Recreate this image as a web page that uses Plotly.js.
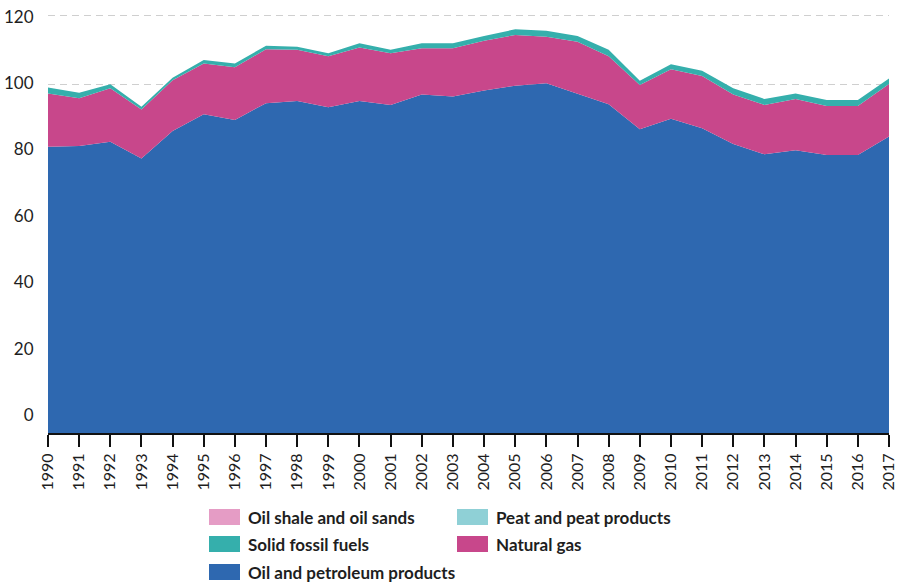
<!DOCTYPE html>
<html>
<head>
<meta charset="utf-8">
<script src="https://cdn.plot.ly/plotly-3.0.1.min.js"></script>
<style>
html,body{margin:0;padding:0;background:#fff;}
#chart{width:903px;height:584px;}
</style>
</head>
<body>
<div id="chart"></div>
<script>
const years = [1990,1991,1992,1993,1994,1995,1996,1997,1998,1999,2000,2001,2002,2003,2004,2005,2006,2007,2008,2009,2010,2011,2012,2013,2014,2015,2016,2017];
const oilPetroleum = [82.2,82.4,83.6,78.8,86.7,91.5,89.9,94.7,95.3,93.5,95.3,94.2,97.2,96.6,98.3,99.7,100.4,97.5,94.4,87.2,90.2,87.5,83.0,80.0,81.2,79.8,79.8,85.1];
const naturalGas = [15.3,13.7,15.4,14.1,14.6,14.6,15.1,15.5,14.7,14.7,15.4,14.8,13.3,13.9,14.3,14.6,13.4,14.8,13.8,12.7,14.2,15.0,14.2,14.2,14.7,14.1,14.1,15.1];
const solidFossil = [1.7,1.6,1.1,0.8,0.7,1.0,1.1,1.0,0.9,0.8,1.2,1.0,1.4,1.4,1.4,1.6,1.7,1.7,1.8,1.2,1.5,1.5,1.8,1.7,1.6,1.7,1.7,1.6];
const peat = [0,0,0,0,0,0,0,0,0,0,0,0,0,0,0,0,0,0,0,0,0,0,0,0,0,0,0,0];
const oilShale = [0,0,0,0,0,0,0,0,0,0,0,0,0,0,0,0,0,0,0,0,0,0,0,0,0,0,0,0];
const yTicks = [0,20,40,60,80,100,120];

const seriesNames = ["Oil and petroleum products","Natural gas","Solid fossil fuels","Peat and peat products","Oil shale and oil sands"];
const seriesValues = [oilPetroleum, naturalGas, solidFossil, peat, oilShale];
const seriesColors = ["#2e68b0","#c8478b","#35afac","#8fd0d6","#e59cc5"];

const traces = seriesValues.map((vals, i) => ({
  type: 'scatter', mode: 'lines', x: years, y: vals, name: seriesNames[i],
  stackgroup: 'one', fillcolor: seriesColors[i],
  line: {width: 0, color: seriesColors[i]}, hoverinfo: 'skip', showlegend: false
}));
// invisible trace to carry the labelled axis
traces.push({type:'scatter', mode:'markers', x:[years[0]], y:[0], yaxis:'y2', marker:{opacity:0}, hoverinfo:'skip', showlegend:false});

const FONT = 'Lato, "Open Sans", sans-serif';
const L = 48, R = 14, T = 10, B = 151, W = 903, H = 584;
const pw = W - L - R, ph = H - T - B;
const px2x = p => (p - L) / pw;
const py2y = p => (H - B - p) / ph;

// legend layout (positions only)
const legendItems = [
  {idx: 4, col: 0, row: 0},
  {idx: 3, col: 1, row: 0},
  {idx: 2, col: 0, row: 1},
  {idx: 1, col: 1, row: 1},
  {idx: 0, col: 0, row: 2}
];
const colX = [209, 457], rowY = [517, 544, 572];
const shapes = [], annotations = [];
legendItems.forEach(it => {
  const x0 = colX[it.col], yc = rowY[it.row];
  shapes.push({type:'rect', xref:'paper', yref:'paper', x0:px2x(x0), x1:px2x(x0+31), y0:py2y(yc+8), y1:py2y(yc-8), fillcolor:seriesColors[it.idx], line:{width:0}});
  annotations.push({xref:'paper', yref:'paper', x:px2x(x0+37), y:py2y(yc), xanchor:'left', yanchor:'middle', showarrow:false, text:'<b>'+seriesNames[it.idx]+'</b>', font:{family:FONT, size:17, color:'#1e1e1e'}});
});

const layout = {
  width: W, height: H,
  margin: {l: L, r: R, t: T, b: B},
  paper_bgcolor: '#fff', plot_bgcolor: '#fff',
  showlegend: false,
  font: {family: FONT, color: '#1e1e1e'},
  xaxis: {
    range: [1990, 2017], tickvals: years, ticktext: years.map(String), tickangle: -90,
    ticks: 'outside', ticklen: 12, tickwidth: 2, tickcolor: '#111',
    showline: true, linewidth: 2, linecolor: '#111', showgrid: false, zeroline: false,
    tickfont: {family: FONT, size: 16, color: '#1e1e1e'}, fixedrange: true
  },
  yaxis: {
    range: [0, ph / 3.483], tickvals: yTicks, showticklabels: false,
    showgrid: true, gridcolor: '#cfcfcf', gridwidth: 1, griddash: '7px,5px',
    zeroline: false, showline: false, ticks: '', fixedrange: true
  },
  yaxis2: {
    overlaying: 'y', side: 'left', anchor: 'x',
    range: [-(433 - 415) / 3.319, 120 + (16.7 - T) / 3.319],
    tickvals: yTicks, ticktext: yTicks.map(String),
    showgrid: false, zeroline: false, showline: false,
    ticks: 'outside', ticklen: 10, tickcolor: 'rgba(0,0,0,0)',
    tickfont: {family: FONT, size: 17, color: '#1e1e1e'}, fixedrange: true
  },
  shapes: shapes,
  annotations: annotations
};

Plotly.newPlot('chart', traces, layout, {displayModeBar: false, staticPlot: true});
</script>
</body>
</html>
